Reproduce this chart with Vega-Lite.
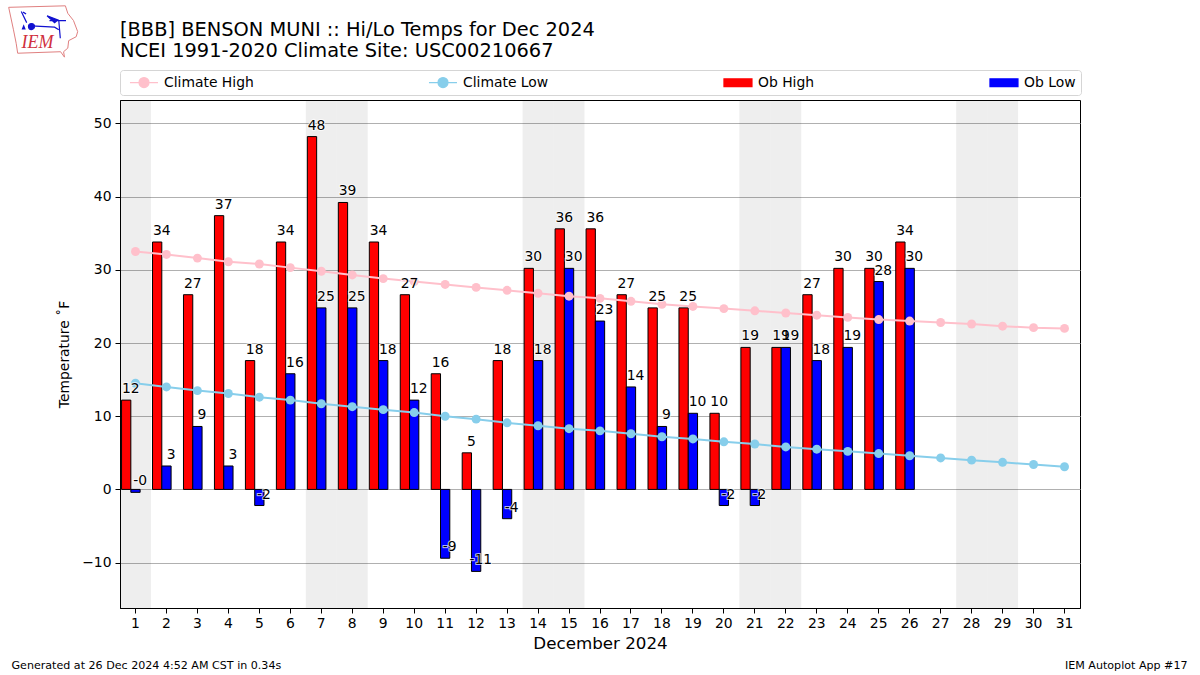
{"$schema":"https://vega.github.io/schema/vega-lite/v6.json","width":960,"height":508,"autosize":"none","padding":{"left":120,"top":100,"right":120,"bottom":67},"background":"white","view":{"stroke":"black","strokeWidth":1},
"config":{"font":"DejaVu Sans","text":{"font":"DejaVu Sans"},"title":{"font":"DejaVu Sans"}},
"title":{"text":["[BBB] BENSON MUNI :: Hi/Lo Temps for Dec 2024","NCEI 1991-2020 Climate Site: USC00210667"],"anchor":"start","frame":"group","fontSize":19.4,"fontWeight":"normal","lineHeight":21,"offset":7,"dy":65,"color":"black"},
"datasets":{"weekend":[{"day":1},{"day":7},{"day":8},{"day":14},{"day":15},{"day":21},{"day":22},{"day":28},{"day":29}],
"obs":[{"day":1,"series":"Ob High","value":12.2,"label":"12"},{"day":2,"series":"Ob High","value":33.8,"label":"34"},{"day":3,"series":"Ob High","value":26.6,"label":"27"},{"day":4,"series":"Ob High","value":37.4,"label":"37"},{"day":5,"series":"Ob High","value":17.6,"label":"18"},{"day":6,"series":"Ob High","value":33.8,"label":"34"},{"day":7,"series":"Ob High","value":48.2,"label":"48"},{"day":8,"series":"Ob High","value":39.2,"label":"39"},{"day":9,"series":"Ob High","value":33.8,"label":"34"},{"day":10,"series":"Ob High","value":26.6,"label":"27"},{"day":11,"series":"Ob High","value":15.8,"label":"16"},{"day":12,"series":"Ob High","value":5.0,"label":"5"},{"day":13,"series":"Ob High","value":17.6,"label":"18"},{"day":14,"series":"Ob High","value":30.2,"label":"30"},{"day":15,"series":"Ob High","value":35.6,"label":"36"},{"day":16,"series":"Ob High","value":35.6,"label":"36"},{"day":17,"series":"Ob High","value":26.6,"label":"27"},{"day":18,"series":"Ob High","value":24.8,"label":"25"},{"day":19,"series":"Ob High","value":24.8,"label":"25"},{"day":20,"series":"Ob High","value":10.4,"label":"10"},{"day":21,"series":"Ob High","value":19.4,"label":"19"},{"day":22,"series":"Ob High","value":19.4,"label":"19"},{"day":23,"series":"Ob High","value":26.6,"label":"27"},{"day":24,"series":"Ob High","value":30.2,"label":"30"},{"day":25,"series":"Ob High","value":30.2,"label":"30"},{"day":26,"series":"Ob High","value":33.8,"label":"34"},
{"day":1,"series":"Ob Low","value":-0.4,"label":"-0"},{"day":2,"series":"Ob Low","value":3.2,"label":"3"},{"day":3,"series":"Ob Low","value":8.6,"label":"9"},{"day":4,"series":"Ob Low","value":3.2,"label":"3"},{"day":5,"series":"Ob Low","value":-2.2,"label":"-2"},{"day":6,"series":"Ob Low","value":15.8,"label":"16"},{"day":7,"series":"Ob Low","value":24.8,"label":"25"},{"day":8,"series":"Ob Low","value":24.8,"label":"25"},{"day":9,"series":"Ob Low","value":17.6,"label":"18"},{"day":10,"series":"Ob Low","value":12.2,"label":"12"},{"day":11,"series":"Ob Low","value":-9.4,"label":"-9"},{"day":12,"series":"Ob Low","value":-11.2,"label":"-11"},{"day":13,"series":"Ob Low","value":-4.0,"label":"-4"},{"day":14,"series":"Ob Low","value":17.6,"label":"18"},{"day":15,"series":"Ob Low","value":30.2,"label":"30"},{"day":16,"series":"Ob Low","value":23.0,"label":"23"},{"day":17,"series":"Ob Low","value":14.0,"label":"14"},{"day":18,"series":"Ob Low","value":8.6,"label":"9"},{"day":19,"series":"Ob Low","value":10.4,"label":"10"},{"day":20,"series":"Ob Low","value":-2.2,"label":"-2"},{"day":21,"series":"Ob Low","value":-2.2,"label":"-2"},{"day":22,"series":"Ob Low","value":19.4,"label":"19"},{"day":23,"series":"Ob Low","value":17.6,"label":"18"},{"day":24,"series":"Ob Low","value":19.4,"label":"19"},{"day":25,"series":"Ob Low","value":28.4,"label":"28"},{"day":26,"series":"Ob Low","value":30.2,"label":"30"}],
"climate":[{"day":1,"series":"Climate High","value":32.5},{"day":2,"series":"Climate High","value":32.1},{"day":3,"series":"Climate High","value":31.6},{"day":4,"series":"Climate High","value":31.1},{"day":5,"series":"Climate High","value":30.8},{"day":6,"series":"Climate High","value":30.3},{"day":7,"series":"Climate High","value":29.8},{"day":8,"series":"Climate High","value":29.3},{"day":9,"series":"Climate High","value":28.8},{"day":10,"series":"Climate High","value":28.4},{"day":11,"series":"Climate High","value":28.0},{"day":12,"series":"Climate High","value":27.6},{"day":13,"series":"Climate High","value":27.2},{"day":14,"series":"Climate High","value":26.8},{"day":15,"series":"Climate High","value":26.4},{"day":16,"series":"Climate High","value":26.1},{"day":17,"series":"Climate High","value":25.7},{"day":18,"series":"Climate High","value":25.3},{"day":19,"series":"Climate High","value":25.0},{"day":20,"series":"Climate High","value":24.7},{"day":21,"series":"Climate High","value":24.4},{"day":22,"series":"Climate High","value":24.1},{"day":23,"series":"Climate High","value":23.8},{"day":24,"series":"Climate High","value":23.5},{"day":25,"series":"Climate High","value":23.2},{"day":26,"series":"Climate High","value":23.0},{"day":27,"series":"Climate High","value":22.8},{"day":28,"series":"Climate High","value":22.6},{"day":29,"series":"Climate High","value":22.3},{"day":30,"series":"Climate High","value":22.1},{"day":31,"series":"Climate High","value":22.0},
{"day":1,"series":"Climate Low","value":14.5},{"day":2,"series":"Climate Low","value":14.0},{"day":3,"series":"Climate Low","value":13.5},{"day":4,"series":"Climate Low","value":13.1},{"day":5,"series":"Climate Low","value":12.6},{"day":6,"series":"Climate Low","value":12.2},{"day":7,"series":"Climate Low","value":11.7},{"day":8,"series":"Climate Low","value":11.3},{"day":9,"series":"Climate Low","value":10.9},{"day":10,"series":"Climate Low","value":10.5},{"day":11,"series":"Climate Low","value":10.0},{"day":12,"series":"Climate Low","value":9.6},{"day":13,"series":"Climate Low","value":9.1},{"day":14,"series":"Climate Low","value":8.7},{"day":15,"series":"Climate Low","value":8.3},{"day":16,"series":"Climate Low","value":8.0},{"day":17,"series":"Climate Low","value":7.6},{"day":18,"series":"Climate Low","value":7.2},{"day":19,"series":"Climate Low","value":6.9},{"day":20,"series":"Climate Low","value":6.5},{"day":21,"series":"Climate Low","value":6.2},{"day":22,"series":"Climate Low","value":5.8},{"day":23,"series":"Climate Low","value":5.5},{"day":24,"series":"Climate Low","value":5.2},{"day":25,"series":"Climate Low","value":4.9},{"day":26,"series":"Climate Low","value":4.6},{"day":27,"series":"Climate Low","value":4.3},{"day":28,"series":"Climate Low","value":4.0},{"day":29,"series":"Climate Low","value":3.7},{"day":30,"series":"Climate Low","value":3.4},{"day":31,"series":"Climate Low","value":3.1}]},
"encoding":{"x":{"field":"day","type":"ordinal","title":"December 2024","scale":{"domain":[1,2,3,4,5,6,7,8,9,10,11,12,13,14,15,16,17,18,19,20,21,22,23,24,25,26,27,28,29,30,31],"paddingInner":0,"paddingOuter":0},"axis":{"labelAngle":0,"labelFontSize":13.9,"labelColor":"black","tickColor":"black","tickSize":5,"domainColor":"black","titleFontSize":16.7,"titleFontWeight":"normal","titleColor":"black","titlePadding":6,"labelPadding":3,"grid":false}},
"y":{"field":"value","type":"quantitative","title":"Temperature ˚F","scale":{"domain":[-16.2,53.2],"nice":false,"zero":false},"axis":{"values":[-10,0,10,20,30,40,50],"labelFontSize":13.9,"labelColor":"black","labelExpr":"replace(datum.label,'-','−')","tickColor":"black","tickSize":5,"domainColor":"black","titleFontSize":13.9,"titleFontWeight":"normal","titleColor":"black","titlePadding":10,"labelPadding":4,"grid":true,"gridColor":"#b0b0b0","gridWidth":1}},
"color":{"field":"series","type":"nominal","scale":{"domain":["Climate High","Climate Low","Ob High","Ob Low"],"range":["pink","skyblue","red","blue"]},"legend":{"orient":"none","legendX":0,"legendY":-30,"title":null,"columns":4,"gridAlign":"each","columnPadding":170,"padding":5,"fillColor":"white","strokeColor":"#d5d5d5","cornerRadius":3,"labelFontSize":13.9,"labelColor":"black","labelOffset":24,"symbolSize":169,"rowPadding":0,"encoding":{"symbols":{"shape":{"value":{"expr":"indexof(datum.value,'Climate')==0 ? 'M-0.39,0L3.92,0M1,0A0.77,0.77,0,1,1,2.54,0A0.77,0.77,0,1,1,1,0Z' : 'M-0.39,-0.6L3.92,-0.6L3.92,0.6L-0.39,0.6Z'"}},"stroke":{"value":{"expr":"datum.value=='Climate High' ? 'pink' : datum.value=='Climate Low' ? 'skyblue' : 'black'"}},"strokeWidth":{"value":1.2}}}}}},
"layer":[
{"data":{"name":"weekend"},"mark":{"type":"rect","fill":"#000","opacity":0.067},"encoding":{"y":{"value":0},"y2":{"value":508},"color":{"value":"#000"}}},
{"data":{"name":"obs"},"mark":{"type":"bar","stroke":"black","strokeWidth":1},"encoding":{"y":{"field":"value","type":"quantitative"},"y2":{"datum":0},"xOffset":{"field":"series","type":"nominal","scale":{"domain":["Ob High","Ob Low","pad"],"paddingInner":0,"paddingOuter":0.1667}}}},
{"data":{"name":"climate"},"mark":{"type":"line","strokeWidth":2,"point":{"filled":true,"size":80,"opacity":1}}},
{"data":{"name":"obs"},"mark":{"type":"text","dx":4.6,"dy":-4,"baseline":"bottom","fontSize":13.9,"stroke":"white","strokeWidth":2,"strokeOpacity":0.7,"fill":"white"},"encoding":{"text":{"field":"label","type":"nominal"},"xOffset":{"field":"series","type":"nominal","scale":{"domain":["Ob High","Ob Low","pad"],"paddingInner":0,"paddingOuter":0.1667}},"color":{"value":"white"}}},
{"data":{"name":"obs"},"mark":{"type":"text","dx":4.6,"dy":-4,"baseline":"bottom","fontSize":13.9,"fill":"black"},"encoding":{"text":{"field":"label","type":"nominal"},"xOffset":{"field":"series","type":"nominal","scale":{"domain":["Ob High","Ob Low","pad"],"paddingInner":0,"paddingOuter":0.1667}},"color":{"value":"black"}}},
{"data":{"values":[{"day":1,"value":-16.2,"label":"Generated at 26 Dec 2024 4:52 AM CST in 0.34s"}]},"mark":{"type":"text","align":"left","baseline":"middle","fontSize":11.1,"dx":-124,"dy":58,"fill":"black"},"encoding":{"text":{"field":"label","type":"nominal"},"color":{"value":"black"}}},
{"data":{"values":[{"day":31,"value":-16.2,"label":"IEM Autoplot App #17"}]},"mark":{"type":"text","align":"right","baseline":"middle","fontSize":11.1,"dx":123,"dy":58,"fill":"black"},"encoding":{"text":{"field":"label","type":"nominal"},"color":{"value":"black"}}},
{"data":{"values":[{"day":1,"value":61,"label":"IEM"}]},"mark":{"type":"text","align":"center","baseline":"middle","font":"Liberation Serif","fontStyle":"italic","fontSize":18,"dx":-98,"dy":0,"fill":"#d03040"},"encoding":{"text":{"field":"label","type":"nominal"},"color":{"value":"#d03040"}}},
{"data":{"values":[{"day":1,"value":62.5,"part":"outline"}]},"mark":{"type":"point","shape":"M-1.16,-0.82L0.73,-0.87L0.81,-0.62L1,-0.38L1.14,-0.01L1.09,0.16L0.84,0.29L0.81,0.54L0.67,0.66L0.7,0.84L0.57,0.66L-0.86,0.71L-0.91,0.38L-1,-0.07Z","size":3600,"filled":false,"stroke":"#e08080","strokeWidth":1,"opacity":1,"xOffset":-92},"encoding":{"color":{"value":"#e08080"}}},
{"data":{"values":[{"day":1,"value":62.5,"part":"bird"}]},"mark":{"type":"point","shape":"M-0.41,-0.2L0.37,-0.16L0.51,-0.07L0.37,-0.16ZM-0.3,-0.18A0.1,0.1,0,1,1,-0.5,-0.18A0.1,0.1,0,1,1,-0.3,-0.18ZM0.12,-0.54L0.48,-0.4L0.37,-0.31ZM0.51,-0.38L0.56,0.21L0.51,-0.38ZM0.2,-0.38L0.75,-0.38L0.2,-0.38ZM-0.74,-0.68L-0.56,-0.31L-0.74,-0.68ZM-0.68,-0.66L-0.58,-0.6L-0.68,-0.66ZM-0.7,-0.1L-0.62,-0.1L-0.66,-0.2Z","size":3600,"filled":true,"fill":"#1010d0","stroke":"#1010d0","strokeWidth":1.2,"opacity":1,"xOffset":-92},"encoding":{"color":{"value":"#1010d0"}}}
]}
